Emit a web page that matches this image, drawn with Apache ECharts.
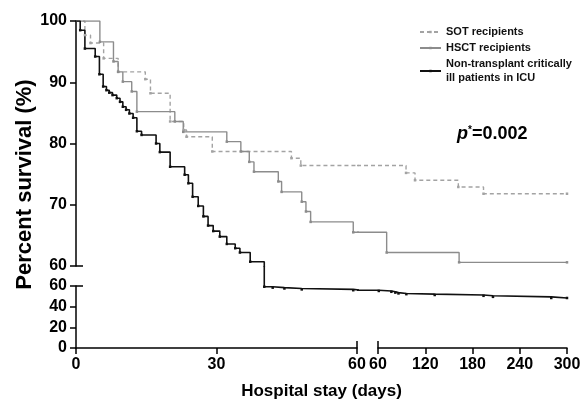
<!DOCTYPE html>
<html>
<head>
<meta charset="utf-8">
<title>Survival by group</title>
<script src="https://cdn.jsdelivr.net/npm/echarts@6/dist/echarts.min.js"></script>
<style>
html, body { margin: 0; padding: 0; background: #fff; }
#main { width: 581px; height: 401px; }
</style>
</head>
<body>
<div id="main"></div>
<script>
// Kaplan-Meier steps: [day, percent surviving after that day]
var sotSteps = [[0,100],[1.9,97.7],[3.1,96.4],[5.9,93.9],[9.0,91.7],[14.8,90.5],[15.9,88.2],[20.1,83.6],[23.0,82.2],[23.6,81.1],[29.1,78.7],[46.0,77.6],[48.0,76.4],[95.6,75.2],[107,74.0],[162,72.9],[194,71.8],[300,71.8]];
var hsctSteps = [[0,100],[5.1,96.6],[8.0,93.4],[9.0,91.7],[10.0,90.1],[11.9,88.5],[13.0,85.2],[21.1,83.6],[22.9,81.9],[32.2,80.3],[35.2,78.7],[37.0,77.0],[38.0,75.4],[43.2,73.8],[43.9,72.1],[48.2,70.5],[49.1,68.9],[50.1,67.2],[59.2,65.5],[71,62.2],[163,60.6],[300,60.6]];
var icuSteps = [[0,100],[0.9,98.5],[1.9,95.5],[4.1,94.2],[5.0,91.3],[5.8,89.3],[6.5,88.7],[7.1,88.3],[7.8,87.9],[8.7,87.4],[9.4,86.8],[10.0,86.0],[10.7,85.5],[11.4,84.9],[12.2,84.2],[13.0,82.0],[14.0,81.4],[17.1,80.0],[17.9,78.6],[20.1,76.2],[23.2,74.9],[24.0,73.5],[24.9,71.3],[26.1,69.8],[27.2,68.1],[28.2,66.6],[29.3,65.7],[30.7,64.8],[32.2,63.6],[34.0,62.9],[35.0,62.2],[37.2,60.7],[40.2,59.3],[42.0,58.4],[44.5,57.6],[48.2,56.7],[59.2,55.9],[61,55.2],[77,54.4],[82,53.6],[86,52.8],[96,52.1],[132,51.3],[194,50.5],[206,49.5],[280,48.4],[300,48.4]];

var groupNames = ['SOT recipients', 'HSCT recipients', 'Non-transplant critically ill patients in ICU'];
var pValueText = '0.002';

// broken axes: day 60 and 60% are the break points
var BREAK_DAY = 60, LAST_DAY = 300, BREAK_PCT = 60;
var X0 = 76, XB1 = 357, XB2 = 378, X1 = 567;
var Y0 = 21, YB1 = 266, YB2 = 286, Y1 = 348;
var rightMin = BREAK_DAY - (XB2 - XB1) * (LAST_DAY - BREAK_DAY) / (X1 - XB2);
var lowerMax = BREAK_PCT + (YB2 - YB1) * BREAK_PCT / (Y1 - YB2);

var FONT = '"Liberation Sans", Arial, sans-serif';
var myChart = echarts.init(document.getElementById('main'));

function valueAt(pts, day) {
    var v = pts[0][1];
    for (var i = 0; i < pts.length; i++) if (pts[i][0] <= day) v = pts[i][1];
    return v;
}
// part of the curve after the x break, starting at the left edge of the right grid
function afterDay(pts, day, startX) {
    var out = [{ value: [startX, valueAt(pts, day)], symbol: 'none' }];
    pts.forEach(function (p) { if (p[0] > day) out.push(p); });
    return out;
}
// part of the curve below the y break, entering from the top of the lower grid
function belowLevel(pts, level, topY) {
    var k = 0;
    while (k < pts.length && pts[k][1] >= level) k++;
    return [{ value: [pts[k][0], topY], symbol: 'none' }].concat(pts.slice(k));
}

var styles = [
    { color: '#a3a3a3', width: 1.4, type: [4, 3] },
    { color: '#8c8c8c', width: 1.4, type: 'solid' },
    { color: '#111111', width: 1.6, type: 'solid' }
];

var series = [];
function addSeries(i, grid, data) {
    series.push({
        name: groupNames[i],
        type: 'line',
        step: 'end',
        xAxisIndex: grid,
        yAxisIndex: grid,
        data: data,
        symbol: 'rect',
        symbolSize: 2.5,
        showSymbol: true,
        clip: true,
        lineStyle: { color: styles[i].color, width: styles[i].width, type: styles[i].type },
        itemStyle: { color: styles[i].color },
        animation: false
    });
}
[sotSteps, hsctSteps, icuSteps].forEach(function (pts, i) {
    var first = pts.map(function (p, j) { return j === 0 ? { value: p, symbol: 'none' } : p; });
    addSeries(i, 0, first);
    if (valueAt(pts, BREAK_DAY) >= BREAK_PCT) {
        addSeries(i, 1, afterDay(pts, BREAK_DAY, rightMin));
    }
    if (pts[pts.length - 1][1] < BREAK_PCT) {
        var low = belowLevel(pts, BREAK_PCT, lowerMax);
        addSeries(i, 2, low);
        var lowPts = low.slice(1);
        addSeries(i, 3, afterDay(lowPts, BREAK_DAY, rightMin));
    }
});

var axisLine = { onZero: false, lineStyle: { color: '#000', width: 1.5 } };
var tickLine = { color: '#000', width: 1.5 };
var labelStyle = { color: '#000', fontWeight: 'bold', fontSize: 16, fontFamily: FONT };

function hidden(grid, min, max) {
    return { type: 'value', gridIndex: grid, min: min, max: max, show: false, splitLine: { show: false } };
}
function shownX(grid, min, max, interval) {
    return {
        type: 'value', gridIndex: grid, min: min, max: max, interval: interval, position: 'bottom',
        axisLine: axisLine, axisTick: { length: 6, lineStyle: tickLine },
        axisLabel: Object.assign({ margin: 9 }, labelStyle), splitLine: { show: false }
    };
}
function shownY(grid, min, max, interval) {
    return {
        type: 'value', gridIndex: grid, min: min, max: max, interval: interval, position: 'left',
        axisLine: axisLine, axisTick: { length: 6, lineStyle: tickLine },
        axisLabel: Object.assign({ margin: 9 }, labelStyle), splitLine: { show: false }
    };
}
// inner half of the break marks
function breakMark(grid, min, max, pos) {
    return {
        type: 'value', gridIndex: grid, min: min, max: max, position: pos,
        axisLine: { show: false, onZero: false }, axisLabel: { show: false }, splitLine: { show: false },
        axisTick: { show: true, inside: true, length: 7, customValues: [BREAK_DAY], lineStyle: tickLine }
    };
}

function grid(l, t, r, b) {
    return { left: l, top: t, width: r - l, height: b - t, outerBoundsMode: 'none', containLabel: false };
}

var option = {
    animation: false,
    grid: [
        grid(X0, Y0, XB1, YB1),   // upper left
        grid(XB1, Y0, X1, YB1),   // upper right
        grid(X0, YB1, XB1, Y1),   // lower left
        grid(XB1, YB1, X1, Y1),   // lower right
        grid(X0, YB2, XB1, Y1),   // lower y axis
        grid(XB2, YB2, X1, Y1)    // right x axis
    ],
    xAxis: [
        hidden(0, 0, BREAK_DAY),
        hidden(1, rightMin, LAST_DAY),
        shownX(2, 0, BREAK_DAY, 30),
        hidden(3, rightMin, LAST_DAY),
        hidden(4, 0, BREAK_DAY),
        shownX(5, BREAK_DAY, LAST_DAY, 60),
        breakMark(2, 0, BREAK_DAY, 'bottom'),
        breakMark(5, BREAK_DAY, LAST_DAY, 'bottom')
    ],
    yAxis: [
        shownY(0, BREAK_PCT, 100, 10),
        hidden(1, BREAK_PCT, 100),
        hidden(2, 0, lowerMax),
        hidden(3, 0, lowerMax),
        shownY(4, 0, BREAK_PCT, 20),
        hidden(5, 0, 1),
        breakMark(0, BREAK_PCT, 100, 'left'),
        breakMark(4, 0, BREAK_PCT, 'left')
    ],
    legend: {
        data: groupNames,
        orient: 'vertical',
        left: 419,
        top: 25,
        padding: 0,
        itemWidth: 21,
        itemHeight: 3,
        itemGap: 2,
        selectedMode: false,
        formatter: function (name) {
            return name === groupNames[2] ? 'Non-transplant critically\nill patients in ICU' : name;
        },
        textStyle: { color: '#111', fontWeight: 'bold', fontSize: 11, lineHeight: 14, fontFamily: FONT }
    },
    title: {
        left: 452,
        top: 120,
        text: '{p|p}{s|*}{n|=' + pValueText + '}',
        textStyle: {
            rich: {
                p: { fontStyle: 'italic', fontWeight: 'bold', fontSize: 18, fontFamily: FONT, color: '#000' },
                s: { fontWeight: 'bold', fontSize: 10, fontFamily: FONT, color: '#000', padding: [0, 0, 9, 0] },
                n: { fontWeight: 'bold', fontSize: 18, fontFamily: FONT, color: '#000' }
            }
        }
    },
    graphic: [
        {
            type: 'text', x: 25, y: (Y0 + Y1) / 2, rotation: Math.PI / 2,
            style: { text: 'Percent survival (%)', align: 'center', verticalAlign: 'middle',
                     fontWeight: 'bold', fontSize: 22, fontFamily: FONT, fill: '#000' }
        },
        {
            type: 'text', x: (X0 + X1) / 2, y: 391,
            style: { text: 'Hospital stay (days)', align: 'center', verticalAlign: 'middle',
                     fontWeight: 'bold', fontSize: 17, fontFamily: FONT, fill: '#000' }
        }
    ],
    series: series
};
myChart.setOption(option);
</script>
</body>
</html>
